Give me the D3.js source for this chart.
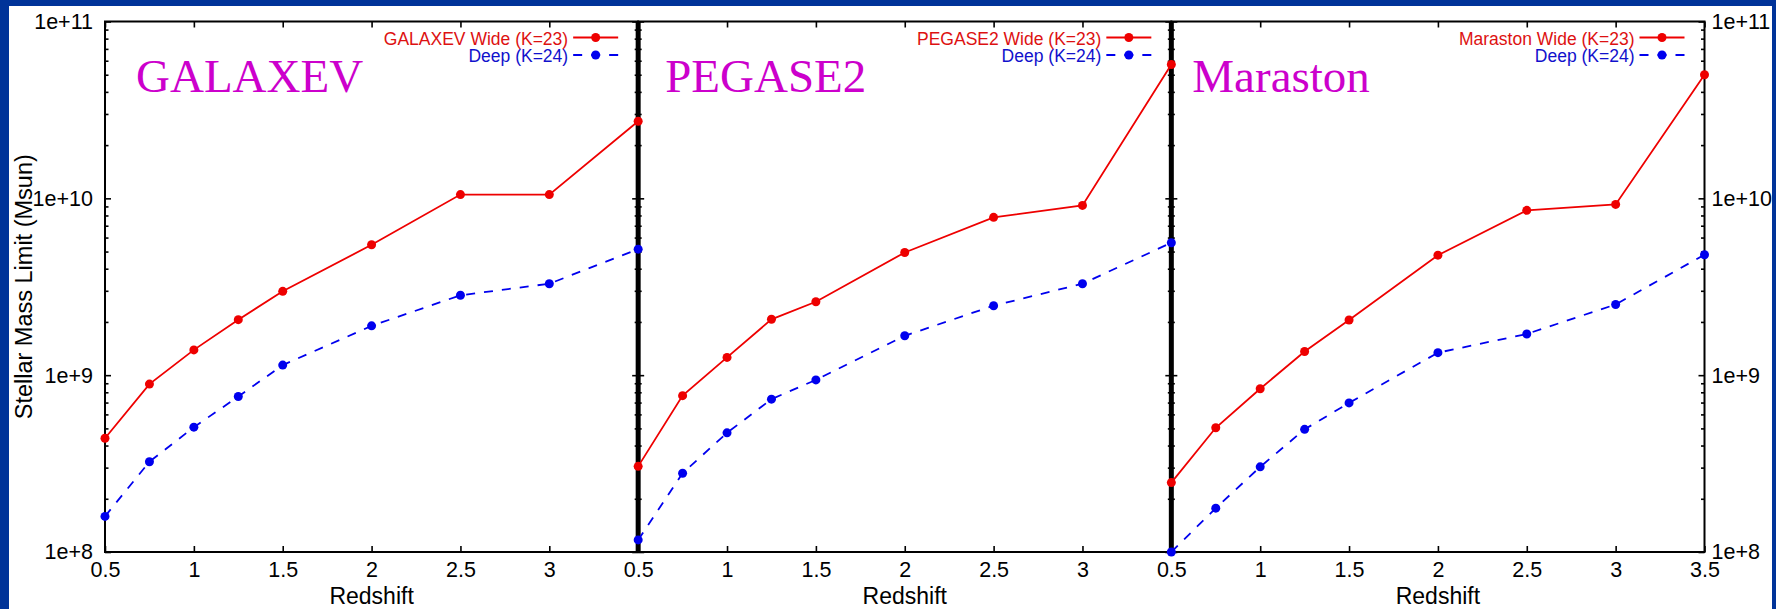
<!DOCTYPE html>
<html>
<head>
<meta charset="utf-8">
<script src="https://cdn.jsdelivr.net/npm/d3@7"></script>
<style>
html, body { margin: 0; padding: 0; background: #003399; }
svg { display: block; font-family: "Liberation Sans", Arial, sans-serif; }
</style>
</head>
<body>
<svg id="chart" width="1776" height="609"></svg>
<script>
// redshift bins, same for every model
let redshift = [0.5, 0.75, 1, 1.25, 1.5, 2, 2.5, 3, 3.5]
let models = ['GALAXEV', 'PEGASE2', 'Maraston']

// stellar mass limits (Msun)
let galaxevWide  = [4.4e8, 8.9e8, 1.39e9, 2.06e9, 2.98e9, 5.46e9, 1.05e10, 1.05e10, 2.73e10]
let galaxevDeep  = [1.59e8, 3.24e8, 5.08e8, 7.57e8, 1.14e9, 1.90e9, 2.83e9, 3.29e9, 5.16e9]
let pegaseWide   = [3.05e8, 7.66e8, 1.26e9, 2.07e9, 2.60e9, 4.94e9, 7.81e9, 9.12e9, 5.71e10]
let pegaseDeep   = [1.17e8, 2.79e8, 4.72e8, 7.32e8, 9.4e8, 1.67e9, 2.47e9, 3.29e9, 5.61e9]
let marastonWide = [2.47e8, 5.04e8, 8.38e8, 1.36e9, 2.05e9, 4.77e9, 8.55e9, 9.24e9, 5.0e10]
let marastonDeep = [1.0e8, 1.77e8, 3.03e8, 4.94e8, 6.97e8, 1.34e9, 1.71e9, 2.51e9, 4.8e9]

let xTicks = [0.5, 1, 1.5, 2, 2.5, 3, 3.5]
let wideLabel = ' Wide (K=23)'
let deepLabel = 'Deep (K=24)'

let wide = [galaxevWide, pegaseWide, marastonWide]
let deep = [galaxevDeep, pegaseDeep, marastonDeep]

let red = '#ee0000', blue = '#0000ee'
let titleDx = [31, 27, 21]

let svg = d3.select('#chart')
svg.append('rect')
  .attr('x', 9).attr('y', 6)
  .attr('width', 1763).attr('height', 603)
  .attr('fill', '#ffffff')

let margin = {top: 21.5, right: 71.5, bottom: 57, left: 105},
    plotW = (1776 - margin.left - margin.right) / 3,
    bottomY = 609 - margin.bottom

let y = d3.scaleLog().domain([1e8, 1e11]).range([bottomY, margin.top])
let logTicks = y.ticks()
let majorY = logTicks.filter(d => Math.abs(Math.log10(d) - Math.round(Math.log10(d))) < 1e-9)
let minorY = logTicks.filter(d => majorY.indexOf(d) < 0)

function styleAxis(g, size){
  g.select('.domain').remove()
  g.selectAll('.tick line').attr('stroke', '#000').attr('stroke-width', 1.6)
  g.attr('font-family', '"Liberation Sans", Arial, sans-serif').attr('font-size', size)
  g.selectAll('text').attr('fill', '#000')
}

let panels = models.map((m, i) => ({
  name: m,
  x: d3.scaleLinear().domain([0.5, 3.5]).range([margin.left + i * plotW, margin.left + (i + 1) * plotW]),
  wide: redshift.map((z, j) => ({z: z, m: wide[i][j]})),
  deep: redshift.map((z, j) => ({z: z, m: deep[i][j]}))
}))

// axes and frames
panels.forEach(function(p, i){
  let x = p.x
  let left = x(0.5), right = x(3.5)
  let last = i == panels.length - 1

  // left axis
  svg.append('g').attr('transform', 'translate(' + left + ',0)')
    .call(d3.axisLeft(y).tickValues(minorY).tickSizeInner(-3.5).tickSizeOuter(0).tickFormat(''))
    .call(g => styleAxis(g, 21.5))
  svg.append('g').attr('transform', 'translate(' + left + ',0)')
    .call(d3.axisLeft(y).tickValues(majorY).tickSizeInner(-6).tickSizeOuter(0).tickPadding(12)
      .tickFormat(i == 0 ? d3.format('.0e') : ''))
    .call(g => styleAxis(g, 21.5))

  // right axis
  svg.append('g').attr('transform', 'translate(' + right + ',0)')
    .call(d3.axisRight(y).tickValues(minorY).tickSizeInner(-3.5).tickSizeOuter(0).tickFormat(''))
    .call(g => styleAxis(g, 21.5))
  svg.append('g').attr('transform', 'translate(' + right + ',0)')
    .call(d3.axisRight(y).tickValues(majorY).tickSizeInner(-6).tickSizeOuter(0).tickPadding(7)
      .tickFormat(last ? d3.format('.0e') : ''))
    .call(g => styleAxis(g, 21.5))

  // top and bottom
  svg.append('g').attr('transform', 'translate(0,' + margin.top + ')')
    .call(d3.axisTop(x).tickValues(xTicks).tickSizeInner(-6).tickSizeOuter(0).tickFormat(''))
    .call(g => styleAxis(g, 21.5))
  svg.append('g').attr('transform', 'translate(0,' + bottomY + ')')
    .call(d3.axisBottom(x).tickValues(xTicks).tickSizeInner(-6).tickSizeOuter(0).tickPadding(9.5)
      .tickFormat(d => (d == 3.5 && !last) ? '' : String(d)))
    .call(g => styleAxis(g, 21.5))

  svg.append('rect')
    .attr('x', left).attr('y', margin.top)
    .attr('width', right - left).attr('height', bottomY - margin.top)
    .attr('fill', 'none').attr('stroke', '#000').attr('stroke-width', 2)

  if(i > 0){
    svg.append('line')
      .attr('x1', left).attr('x2', left)
      .attr('y1', margin.top).attr('y2', bottomY)
      .attr('stroke', '#000').attr('stroke-width', 5)
  }

  // x axis title
  svg.append('text')
    .attr('x', (left + right) / 2).attr('y', 604)
    .attr('text-anchor', 'middle')
    .attr('font-size', 23)
    .text('Redshift')

  // model name
  svg.append('text')
    .attr('x', left + titleDx[i]).attr('y', 91.5)
    .style('font-family', '"Liberation Serif", "Times New Roman", serif')
    .attr('font-size', 47)
    .attr('fill', '#cc00cc')
    .text(p.name)

  // legend
  let lx = right - 20
  let rows = [
    {label: p.name + wideLabel, color: red, text: '#dd1111', dash: null, y: 37.5},
    {label: deepLabel, color: blue, text: '#1111cc', dash: '9,9', y: 55}
  ]
  rows.forEach(function(r){
    svg.append('line')
      .attr('x1', lx - 45).attr('x2', lx)
      .attr('y1', r.y).attr('y2', r.y)
      .attr('stroke', r.color).attr('stroke-width', 1.8)
      .attr('stroke-dasharray', r.dash)
    svg.append('circle')
      .attr('cx', lx - 22.5).attr('cy', r.y).attr('r', 4.5)
      .attr('fill', r.color)
    svg.append('text')
      .attr('x', lx - 50).attr('y', r.y + 7)
      .attr('text-anchor', 'end')
      .attr('font-size', 17.5)
      .attr('fill', r.text)
      .text(r.label)
  })
})

// y axis title
svg.append('text')
  .attr('transform', 'translate(32,' + ((margin.top + bottomY) / 2) + ') rotate(-90)')
  .attr('text-anchor', 'middle')
  .attr('font-size', 23.5)
  .text('Stellar Mass Limit (Msun)')

// data
panels.forEach(function(p){
  let line = d3.line()
    .x(d => p.x(d.z))
    .y(d => y(d.m))

  svg.append('path')
    .datum(p.deep)
    .attr('fill', 'none')
    .attr('stroke', blue)
    .attr('stroke-width', 1.8)
    .attr('stroke-dasharray', '9,9')
    .attr('d', line)

  svg.append('path')
    .datum(p.wide)
    .attr('fill', 'none')
    .attr('stroke', red)
    .attr('stroke-width', 1.8)
    .attr('d', line)

  svg.selectAll(null)
    .data(p.deep)
    .enter()
    .append('circle')
    .attr('cx', d => p.x(d.z))
    .attr('cy', d => y(d.m))
    .attr('r', 4.5)
    .attr('fill', blue)

  svg.selectAll(null)
    .data(p.wide)
    .enter()
    .append('circle')
    .attr('cx', d => p.x(d.z))
    .attr('cy', d => y(d.m))
    .attr('r', 4.5)
    .attr('fill', red)
})
</script>
</body>
</html>
